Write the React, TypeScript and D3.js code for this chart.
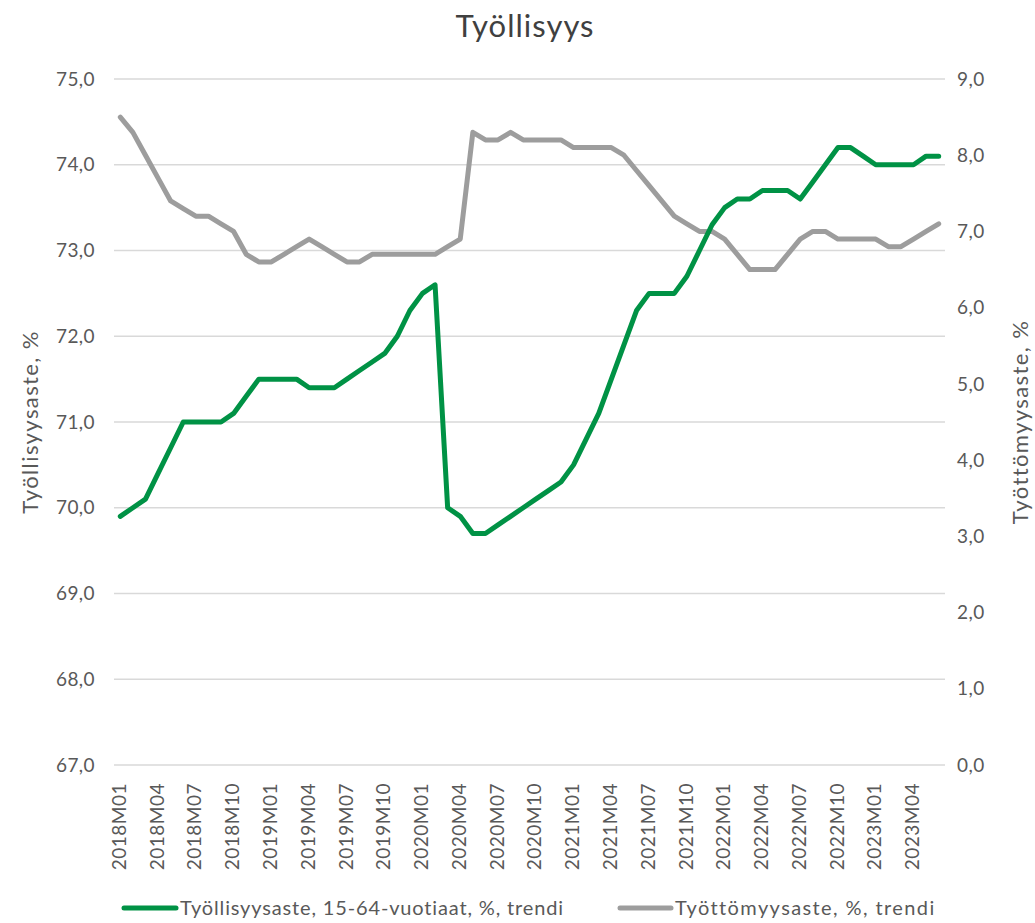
import React from "react";
import * as d3 from "d3";

const months: string[] = [
  "2018M01","2018M02","2018M03","2018M04","2018M05","2018M06","2018M07","2018M08","2018M09","2018M10","2018M11","2018M12",
  "2019M01","2019M02","2019M03","2019M04","2019M05","2019M06","2019M07","2019M08","2019M09","2019M10","2019M11","2019M12",
  "2020M01","2020M02","2020M03","2020M04","2020M05","2020M06","2020M07","2020M08","2020M09","2020M10","2020M11","2020M12",
  "2021M01","2021M02","2021M03","2021M04","2021M05","2021M06","2021M07","2021M08","2021M09","2021M10","2021M11","2021M12",
  "2022M01","2022M02","2022M03","2022M04","2022M05","2022M06","2022M07","2022M08","2022M09","2022M10","2022M11","2022M12",
  "2023M01","2023M02","2023M03","2023M04","2023M05","2023M06",
];

const employmentRate: number[] = [
  69.9, 70.0, 70.1, 70.4, 70.7, 71.0, 71.0, 71.0, 71.0, 71.1, 71.3, 71.5,
  71.5, 71.5, 71.5, 71.4, 71.4, 71.4, 71.5, 71.6, 71.7, 71.8, 72.0, 72.3,
  72.5, 72.6, 70.0, 69.9, 69.7, 69.7, 69.8, 69.9, 70.0, 70.1, 70.2, 70.3,
  70.5, 70.8, 71.1, 71.5, 71.9, 72.3, 72.5, 72.5, 72.5, 72.7, 73.0, 73.3,
  73.5, 73.6, 73.6, 73.7, 73.7, 73.7, 73.6, 73.8, 74.0, 74.2, 74.2, 74.1,
  74.0, 74.0, 74.0, 74.0, 74.1, 74.1,
];

const unemploymentRate: number[] = [
  8.5, 8.3, 8.0, 7.7, 7.4, 7.3, 7.2, 7.2, 7.1, 7.0, 6.7, 6.6,
  6.6, 6.7, 6.8, 6.9, 6.8, 6.7, 6.6, 6.6, 6.7, 6.7, 6.7, 6.7,
  6.7, 6.7, 6.8, 6.9, 8.3, 8.2, 8.2, 8.3, 8.2, 8.2, 8.2, 8.2,
  8.1, 8.1, 8.1, 8.1, 8.0, 7.8, 7.6, 7.4, 7.2, 7.1, 7.0, 7.0,
  6.9, 6.7, 6.5, 6.5, 6.5, 6.7, 6.9, 7.0, 7.0, 6.9, 6.9, 6.9,
  6.9, 6.8, 6.8, 6.9, 7.0, 7.1,
];

const leftTicks: number[] = [67, 68, 69, 70, 71, 72, 73, 74, 75];
const rightTicks: number[] = [0, 1, 2, 3, 4, 5, 6, 7, 8, 9];

const titleText = "Työllisyys";
const leftAxisTitle = "Työllisyysaste, %";
const rightAxisTitle = "Työttömyysaste, %";
const seriesNames: string[] = [
  "Työllisyysaste, 15-64-vuotiaat, %, trendi",
  "Työttömyysaste, %, trendi",
];

const GREEN = "#009245";
const GRAY = "#9d9d9d";
const FONT = "Lato, 'Open Sans', sans-serif";
const fmt = (v: number) => d3.format(".1f")(v).replace(".", ",");

export default function App() {
  const W = 1035;
  const H = 923;
  const left = 114, right = 945, top = 79, bottom = 765;

  const x = d3.scaleBand<string>().domain(months).range([left, right]);
  const xc = (m: string) => (x(m) as number) + x.bandwidth() / 2;
  const yL = d3.scaleLinear().domain([67, 75]).range([bottom, top]);
  const yR = d3.scaleLinear().domain([0, 9]).range([bottom, top]);

  const lineL = d3.line<number>().x((_, i) => xc(months[i])).y((d) => yL(d));
  const lineR = d3.line<number>().x((_, i) => xc(months[i])).y((d) => yR(d));

  const labelMonths = months.filter((_, i) => i % 3 === 0);

  return (
    <svg width={W} height={H} style={{ position: "absolute", left: 0, top: 0, background: "#fff" }} fontFamily={FONT}>
      <rect x={0} y={0} width={W} height={H} fill="#fff" />
      <text x={525} y={37} textAnchor="middle" fontSize={31} letterSpacing={1} fill="#404040">{titleText}</text>

      {leftTicks.map((t) => (
        <line key={"g" + t} x1={left} x2={right} y1={yL(t)} y2={yL(t)} stroke="#d9d9d9" strokeWidth={1.5} />
      ))}

      {leftTicks.map((t) => (
        <text key={"l" + t} x={95} y={yL(t)} dy="0.35em" textAnchor="end" fontSize={19} letterSpacing={0.4} fill="#595959">{fmt(t)}</text>
      ))}
      {rightTicks.map((t) => (
        <text key={"r" + t} x={957} y={yR(t)} dy="0.35em" textAnchor="start" fontSize={19} letterSpacing={0.4} fill="#595959">{fmt(t)}</text>
      ))}

      {labelMonths.map((m) => (
        <text key={m} transform={`translate(${xc(m) - 1},${783}) rotate(-90)`} textAnchor="end" dy="0.35em" fontSize={19} letterSpacing={0.5} fill="#595959">{m}</text>
      ))}

      <text transform={`translate(30,${(top + bottom) / 2}) rotate(-90)`} textAnchor="middle" dy="0.35em" fontSize={22} letterSpacing={1.4} fill="#595959">{leftAxisTitle}</text>
      <text transform={`translate(1020,${(top + bottom) / 2}) rotate(-90)`} textAnchor="middle" dy="0.35em" fontSize={22} letterSpacing={1.4} fill="#595959">{rightAxisTitle}</text>

      <path d={lineR(unemploymentRate) || ""} fill="none" stroke={GRAY} strokeWidth={5} strokeLinejoin="round" strokeLinecap="round" />
      <path d={lineL(employmentRate) || ""} fill="none" stroke={GREEN} strokeWidth={5} strokeLinejoin="round" strokeLinecap="round" />

      <line x1={124} x2={176} y1={908} y2={908} stroke={GREEN} strokeWidth={5} strokeLinecap="round" />
      <text x={180} y={908} dy="0.35em" fontSize={20} letterSpacing={0.85} fill="#595959">{seriesNames[0]}</text>
      <line x1={620} x2={671} y1={908} y2={908} stroke={GRAY} strokeWidth={5} strokeLinecap="round" />
      <text x={675} y={908} dy="0.35em" fontSize={20} letterSpacing={1.4} fill="#595959">{seriesNames[1]}</text>
    </svg>
  );
}
